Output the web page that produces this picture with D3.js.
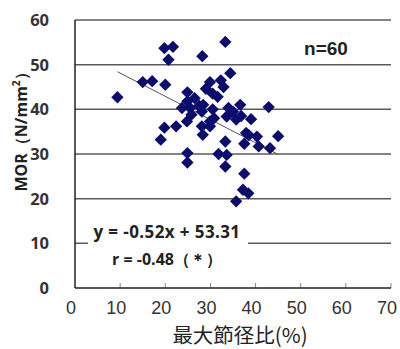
<!DOCTYPE html>
<html>
<head>
<meta charset="utf-8">
<script src="https://cdn.jsdelivr.net/npm/d3@7"></script>
<style>
  body { margin: 0; background: #fff; }
</style>
</head>
<body>
<div id="chart"></div>
<script>
// values
const xVals = [9.4, 15.0, 17.1, 20.0, 19.8, 21.7, 20.7, 28.2, 33.3, 34.4,
  32.3, 29.9, 29.0, 31.6, 24.9, 24.9, 23.7, 25.5, 28.4, 28.1,
  34.0, 36.6, 33.6, 35.7, 39.0, 42.9, 24.8, 22.4, 19.8, 19.0,
  29.9, 28.1, 29.9, 28.3, 37.9, 40.3, 37.5, 40.7, 43.2, 45.0,
  33.3, 31.8, 33.6, 33.3, 24.9, 24.9, 37.5, 37.2, 38.4, 35.7,
  26.5, 27.5, 30.5, 30.8, 25.8, 35.0, 38.5, 36.8, 32.9, 30.5];
const yVals = [42.7, 46.1, 46.3, 45.5, 53.7, 54.0, 51.1, 51.9, 55.1, 48.1,
  46.5, 46.1, 44.6, 42.8, 43.8, 41.8, 40.3, 40.3, 41.0, 39.5,
  40.3, 41.0, 38.4, 37.7, 37.8, 40.5, 37.3, 36.2, 35.9, 33.2,
  37.3, 36.2, 36.2, 34.3, 34.7, 33.9, 32.3, 31.7, 31.3, 34.0,
  32.8, 30.0, 29.8, 27.2, 30.2, 28.1, 25.6, 22.0, 21.2, 19.4,
  42.5, 40.8, 40.0, 38.0, 38.8, 39.5, 34.2, 38.5, 45.0, 43.5];
const xTicks = [0, 10, 20, 30, 40, 50, 60, 70];
const yTicks = [0, 10, 20, 30, 40, 50, 60];
const slope = -0.52, intercept = 53.31;
const eqLabel = 'y = -0.52x + 53.31';
const rLabel = 'r = -0.48（＊）';
const nLabel = 'n=60';

const WIDTH = 400, HEIGHT = 349;
const M = { left: 75, right: 391, top: 20, bottom: 288 };

const svg = d3.select('#chart').append('svg')
  .attr('width', WIDTH).attr('height', HEIGHT);

const x = d3.scaleLinear().domain([0, 70]).range([M.left, M.right]);
const y = d3.scaleLinear().domain([0, 60]).range([M.bottom, M.top]);

// grille horizontale
svg.append('g').selectAll('line')
  .data(yTicks.filter(d => d > 0))
  .enter().append('line')
  .attr('x1', M.left).attr('x2', M.right)
  .attr('y1', d => y(d)).attr('y2', d => y(d))
  .attr('stroke', '#5a5a5a').attr('stroke-width', 1.5);

// petits traits vers le haut sur l'axe x
svg.append('g').selectAll('line')
  .data(xTicks.filter(d => d > 0))
  .enter().append('line')
  .attr('x1', d => x(d)).attr('x2', d => x(d))
  .attr('y1', M.bottom).attr('y2', M.bottom - 5)
  .attr('stroke', '#888').attr('stroke-width', 1);

// axes
svg.append('line').attr('x1', M.left).attr('x2', M.left).attr('y1', M.top).attr('y2', M.bottom)
  .attr('stroke', '#222').attr('stroke-width', 1.5);
svg.append('line').attr('x1', M.left).attr('x2', M.right).attr('y1', M.bottom).attr('y2', M.bottom)
  .attr('stroke', '#222').attr('stroke-width', 1.5);

// tick labels
svg.append('g').selectAll('text')
  .data(yTicks).enter().append('text')
  .attr('x', 49).attr('y', d => y(d) + 6)
  .attr('text-anchor', 'end')
  .attr('font-family', 'Open Sans, sans-serif').attr('font-weight', 'bold')
  .attr('font-size', 16.5).attr('fill', '#333')
  .text(d => d);

svg.append('g').selectAll('text')
  .data(xTicks).enter().append('text')
  .attr('x', d => x(d) - 4).attr('y', 314)
  .attr('text-anchor', 'middle')
  .attr('font-family', 'Liberation Sans, Arial, sans-serif')
  .attr('font-size', 18).attr('fill', '#333')
  .text(d => d);

// titres des axes
svg.append('text')
  .attr('x', 240).attr('y', 343)
  .attr('text-anchor', 'middle')
  .attr('font-family', 'Noto Sans CJK JP, sans-serif')
  .attr('font-size', 20.5).attr('fill', '#222')
  .text('最大節径比(%)');

const yTitle = svg.append('text')
  .attr('transform', 'translate(27,128) rotate(-90)')
  .attr('text-anchor', 'middle')
  .attr('font-family', 'Open Sans, sans-serif').attr('font-weight', 'bold')
  .attr('font-size', 16).attr('fill', '#222');
yTitle.append('tspan').text('MOR（N/mm');
yTitle.append('tspan').attr('font-size', 10).attr('dy', -7).text('2');
yTitle.append('tspan').attr('dy', 7).text('）');

// droite de régression
const xExt = d3.extent(xVals);
svg.append('line')
  .attr('x1', x(xExt[0])).attr('y1', y(slope * xExt[0] + intercept))
  .attr('x2', x(xExt[1])).attr('y2', y(slope * xExt[1] + intercept))
  .attr('stroke', '#555').attr('stroke-width', 1);

// points en losange
const diamond = d3.symbol().type(d3.symbolSquare).size(76);
svg.append('g').selectAll('path')
  .data(xVals.map((v, i) => [v, yVals[i]]))
  .enter().append('path')
  .attr('d', diamond)
  .attr('transform', d => `translate(${x(d[0])},${y(d[1])}) rotate(45)`)
  .attr('fill', '#0c0c6e');

// équation avec fond blanc
svg.append('rect')
  .attr('x', 88).attr('y', 219).attr('width', 160).attr('height', 56)
  .attr('fill', '#fff');
svg.append('text')
  .attr('x', 167).attr('y', 238)
  .attr('text-anchor', 'middle')
  .attr('font-family', 'Open Sans, sans-serif').attr('font-weight', 'bold')
  .attr('font-size', 17).attr('letter-spacing', 0.4).attr('fill', '#222')
  .text(eqLabel);
svg.append('text')
  .attr('x', 167).attr('y', 265)
  .attr('text-anchor', 'middle')
  .attr('font-family', 'Open Sans, sans-serif').attr('font-weight', 'bold')
  .attr('font-size', 16).attr('fill', '#222')
  .text(rLabel);

svg.append('text')
  .attr('x', 326).attr('y', 55)
  .attr('text-anchor', 'middle')
  .attr('font-family', 'Liberation Sans, Arial, sans-serif').attr('font-weight', 'bold')
  .attr('font-size', 19).attr('fill', '#222')
  .text(nLabel);
</script>
</body>
</html>
